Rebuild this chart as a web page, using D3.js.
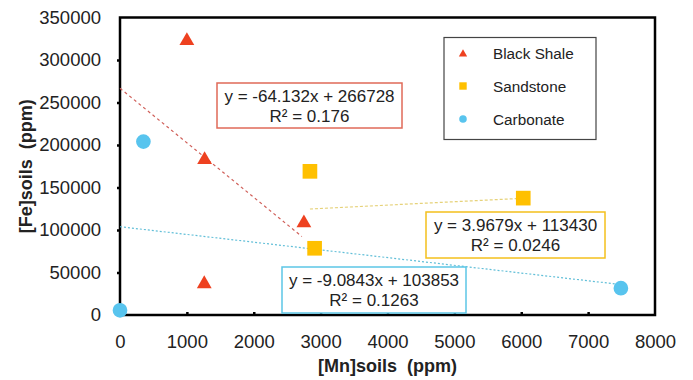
<!DOCTYPE html>
<html>
<head>
<meta charset="utf-8">
<script src="https://cdn.jsdelivr.net/npm/d3@7/dist/d3.min.js"></script>
<style>
  body { margin: 0; background: #fff; }
  svg { display: block; font-family: "Liberation Sans", Arial, sans-serif; }
</style>
</head>
<body>
<svg id="chart" width="693" height="380"></svg>
<script>
// data
const seriesNames = ["Black Shale", "Sandstone", "Carbonate"];
const blackShale = [[1000, 325000], [1265, 185000], [2750, 110500], [1260, 39000]];
const sandstone = [[2840, 169000], [2910, 78500], [6030, 137500]];
const carbonate = [[0, 5500], [350, 204000], [7490, 31500]];
const slopes = [-64.132, 3.9679, -9.0843];
const intercepts = [266728, 113430, 103853];
// x-range over which each trendline is drawn (as in the figure)
const trendFrom = [0, 2840, 0];
const trendTo = [2720, 6030, 7490];
const equations = ["y = -64.132x + 266728", "y = 3.9679x + 113430", "y = -9.0843x + 103853"];
const r2Labels = ["R² = 0.176", "R² = 0.0246", "R² = 0.1263"];
const xTicks = [0, 1000, 2000, 3000, 4000, 5000, 6000, 7000, 8000];
const yTicks = [0, 50000, 100000, 150000, 200000, 250000, 300000, 350000];

const margin = { top: 17.5, right: 38, bottom: 65, left: 120 };
const width = 693, height = 380;
const colors = ["#ee4120", "#ffc000", "#58c4ee"];
const lineColors = ["#d0605a", "#e6d27a", "#62bfd8"];
const symbols = [d3.symbolTriangle, d3.symbolSquare, d3.symbolCircle];
const symbolSizes = [95, 215, 170];
const allSeries = [blackShale, sandstone, carbonate];

const svg = d3.select("#chart");

const x = d3.scaleLinear().domain([0, 8000]).range([margin.left, width - margin.right]);
const y = d3.scaleLinear().domain([0, 350000]).range([height - margin.bottom, margin.top]);

// frame
svg.append("rect")
  .attr("x", x(0)).attr("y", y(350000))
  .attr("width", x(8000) - x(0)).attr("height", y(0) - y(350000))
  .attr("fill", "none").attr("stroke", "#000").attr("stroke-width", 2.5);

// axes (ticks inside)
const xAxis = svg.append("g")
  .attr("transform", `translate(0,${y(0)})`)
  .call(d3.axisBottom(x).tickValues(xTicks).tickSize(-3).tickPadding(20).tickFormat(d3.format("d")));
const yAxis = svg.append("g")
  .attr("transform", `translate(${x(0)},0)`)
  .call(d3.axisLeft(y).tickValues(yTicks).tickSize(3).tickPadding(16).tickFormat(d3.format("d")));

[xAxis, yAxis].forEach(a => {
  a.select(".domain").remove();
  a.selectAll("line").attr("stroke", "#000").attr("stroke-width", 2.5);
  a.selectAll("text")
    .attr("fill", "#222")
    .style("font-size", "18.5px")
    .style("font-family", "Liberation Sans, Arial, sans-serif");
});
xAxis.selectAll(".tick line").filter(d => d === 0 || d === 8000).remove();
yAxis.selectAll(".tick line").filter(d => d === 0 || d === 350000).remove();

// axis titles
svg.append("text")
  .attr("x", (x(0) + x(8000)) / 2).attr("y", 372)
  .attr("text-anchor", "middle")
  .style("font-size", "18px").style("font-weight", "bold").attr("fill", "#222")
  .attr("xml:space", "preserve")
  .text("[Mn]soils  (ppm)");

svg.append("text")
  .attr("transform", `translate(32,${(y(0) + y(350000)) / 2}) rotate(-90)`)
  .attr("text-anchor", "middle")
  .style("font-size", "18px").style("font-weight", "bold").attr("fill", "#222")
  .attr("xml:space", "preserve")
  .text("[Fe]soils  (ppm)");

// trend lines
const dashes = ["3,3", "3,2", "2,2"];
slopes.forEach((m, i) => {
  svg.append("line")
    .attr("x1", x(trendFrom[i])).attr("y1", y(m * trendFrom[i] + intercepts[i]))
    .attr("x2", x(trendTo[i])).attr("y2", y(m * trendTo[i] + intercepts[i]))
    .attr("stroke", lineColors[i]).attr("stroke-width", 1.2)
    .attr("stroke-dasharray", dashes[i]);
});

// equation boxes
const boxes = [
  { x: 217, y: 83, w: 185, h: 45, stroke: "#e06a58" },
  { x: 426, y: 212, w: 179, h: 46, stroke: "#f4c01c" },
  { x: 282, y: 267, w: 184, h: 46, stroke: "#5cc6e6" }
];
boxes.forEach((b, i) => {
  const g = svg.append("g");
  g.append("rect")
    .attr("x", b.x).attr("y", b.y).attr("width", b.w).attr("height", b.h)
    .attr("fill", "#fff").attr("stroke", b.stroke).attr("stroke-width", 1.5);
  g.append("text")
    .attr("x", b.x + b.w / 2).attr("y", b.y + 19)
    .attr("text-anchor", "middle").style("font-size", "17px").attr("fill", "#222")
    .text(equations[i]);
  g.append("text")
    .attr("x", b.x + b.w / 2).attr("y", b.y + 39)
    .attr("text-anchor", "middle").style("font-size", "17px").attr("fill", "#222")
    .text(r2Labels[i]);
});

// points
allSeries.forEach((s, i) => {
  svg.append("g").selectAll("path")
    .data(s)
    .join("path")
    .attr("transform", d => `translate(${x(d[0])},${y(d[1]) + (i === 0 ? 2 : 0)})`)
    .attr("d", d3.symbol().type(symbols[i]).size(symbolSizes[i]))
    .attr("fill", colors[i]);
});

// legend
const legend = svg.append("g");
legend.append("rect")
  .attr("x", 444).attr("y", 37.5).attr("width", 152).attr("height", 102)
  .attr("fill", "#fff").attr("stroke", "#444").attr("stroke-width", 1.2);
seriesNames.forEach((name, i) => {
  const cy = 53 + i * 33;
  legend.append("path")
    .attr("transform", `translate(463,${cy + (i === 0 ? 1 : 0)})`)
    .attr("d", d3.symbol().type(symbols[i]).size([30, 55, 45][i]))
    .attr("fill", colors[i]);
  legend.append("text")
    .attr("x", 493).attr("y", cy + 5.5)
    .style("font-size", "15.3px").attr("fill", "#222")
    .text(name);
});
</script>
</body>
</html>
